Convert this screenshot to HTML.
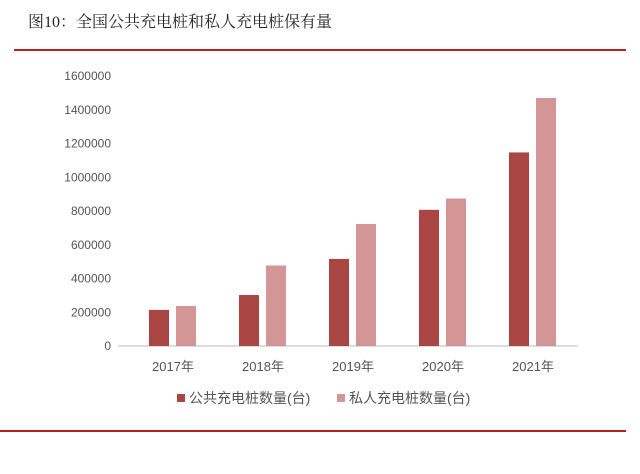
<!DOCTYPE html>
<html><head><meta charset="utf-8"><style>
body{margin:0;background:#fff;width:640px;height:469px;overflow:hidden;font-family:"Liberation Sans","Noto Sans CJK SC",sans-serif}
</style></head><body>
<svg width="640" height="469">
<text x="28" y="27" font-size="16" fill="#222" font-family="'Liberation Serif','Noto Serif CJK SC',serif">图10：全国公共充电桩和私人充电桩保有量</text>
<line x1="14" y1="50" x2="626" y2="50" stroke="#b22222" stroke-width="2"/>
<line x1="0" y1="431" x2="626" y2="431" stroke="#b22222" stroke-width="2"/>
<g id="g"></g>
</svg>
<script>
const categories=["2017年","2018年","2019年","2020年","2021年"];
const publicVals=[214000,302000,516000,807000,1147000];
const privateVals=[237000,477000,723000,874000,1470000];
const ticks=[0,200000,400000,600000,800000,1000000,1200000,1400000,1600000];
const NS="http://www.w3.org/2000/svg";
const g=document.getElementById('g');
const y0=346,y1=76,maxV=1600000,x0=128,bw=90;
const y=v=>y0-(v/maxV)*(y0-y1);
const x=i=>x0+i*bw;
function mk(t,a){const e=document.createElementNS(NS,t);for(const k in a)e.setAttribute(k,a[k]);g.appendChild(e);return e;}
ticks.forEach(v=>{const t=mk('text',{x:111,y:y(v)+4,'text-anchor':'end','font-size':12,fill:'#555'});t.textContent=v;

});
const ax=mk('line',{x1:x0-10,y1:y0,x2:578,y2:y0,stroke:'#d0d0d0','stroke-width':1.5});


categories.forEach((c,i)=>{
 const a=mk('rect',{x:x(i)+21,y:y(publicVals[i]),width:20,height:y0-y(publicVals[i]),fill:'#a94543'});
 
 
 const b=mk('rect',{x:x(i)+48,y:y(privateVals[i]),width:20,height:y0-y(privateVals[i]),fill:'#d39595'});
 
 
 const t=mk('text',{x:x(i)+45,y:371,'text-anchor':'middle','font-size':13,fill:'#555'});t.textContent=c;
 
 
});
const l1=mk('rect',{x:177,y:394,width:8,height:8,fill:'#a94543'});


const lt1=mk('text',{x:189,y:403,'font-size':14,fill:'#555'});lt1.textContent='公共充电桩数量(台)';


const l2=mk('rect',{x:337,y:394,width:8,height:8,fill:'#d39595'});


const lt2=mk('text',{x:349,y:403,'font-size':14,fill:'#555'});lt2.textContent='私人充电桩数量(台)';


</script>
</body></html>
